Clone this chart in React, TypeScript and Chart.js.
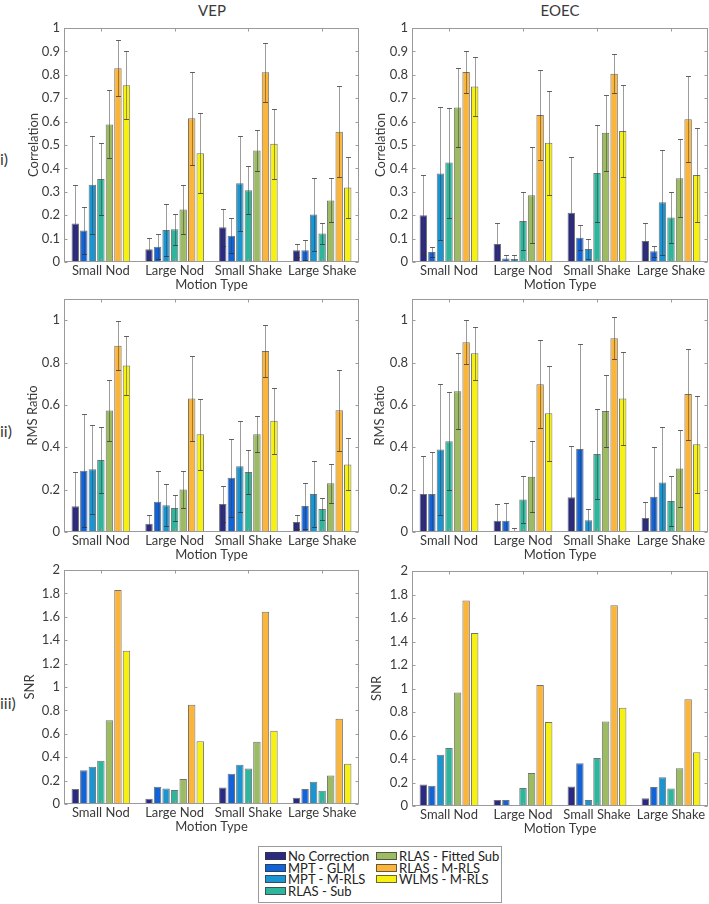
import React, { useEffect, useRef } from 'react';
import { Chart, registerables } from 'chart.js';

Chart.register(...registerables);

// ---------------- data ----------------
const categories = ['Small Nod', 'Large Nod', 'Small Shake', 'Large Shake'];
const methods = [
  'No Correction',
  'MPT - GLM',
  'MPT - M-RLS',
  'RLAS - Sub',
  'RLAS - Fitted Sub',
  'RLAS - M-RLS',
  'WLMS - M-RLS',
];
const methodColors = ['#2b2a82', '#1262d8', '#1a95d2', '#2fb59c', '#9cbb63', '#fbb53b', '#f6f112'];

// rows = methods, columns = categories
const vepCorrMean = [
  [0.165, 0.055, 0.148, 0.05],
  [0.135, 0.065, 0.112, 0.05],
  [0.33, 0.137, 0.337, 0.203],
  [0.355, 0.14, 0.307, 0.122],
  [0.588, 0.224, 0.477, 0.263],
  [0.828, 0.614, 0.811, 0.557],
  [0.755, 0.465, 0.505, 0.318],
];
const vepCorrSd = [
  [0.165, 0.048, 0.08, 0.027],
  [0.1, 0.053, 0.075, 0.043],
  [0.21, 0.11, 0.203, 0.154],
  [0.155, 0.067, 0.104, 0.045],
  [0.145, 0.104, 0.087, 0.094],
  [0.12, 0.2, 0.126, 0.195],
  [0.145, 0.17, 0.15, 0.13],
];
const eoecCorrMean = [
  [0.2, 0.077, 0.21, 0.09],
  [0.043, 0.015, 0.104, 0.046],
  [0.378, 0.013, 0.056, 0.255],
  [0.425, 0.175, 0.38, 0.19],
  [0.66, 0.285, 0.552, 0.358],
  [0.812, 0.628, 0.805, 0.61],
  [0.75, 0.51, 0.56, 0.372],
];
const eoecCorrSd = [
  [0.172, 0.088, 0.24, 0.077],
  [0.021, 0.015, 0.053, 0.024],
  [0.285, 0.017, 0.044, 0.225],
  [0.235, 0.125, 0.207, 0.11],
  [0.167, 0.205, 0.161, 0.167],
  [0.088, 0.194, 0.083, 0.183],
  [0.126, 0.222, 0.195, 0.2],
];
const vepRmsMean = [
  [0.121, 0.039, 0.132, 0.047],
  [0.289, 0.143, 0.256, 0.123],
  [0.296, 0.126, 0.31, 0.179],
  [0.34, 0.113, 0.283, 0.108],
  [0.574, 0.201, 0.462, 0.23],
  [0.879, 0.63, 0.854, 0.575],
  [0.786, 0.461, 0.525, 0.319],
];
const vepRmsSd = [
  [0.164, 0.04, 0.085, 0.035],
  [0.266, 0.143, 0.184, 0.107],
  [0.209, 0.099, 0.214, 0.154],
  [0.155, 0.06, 0.102, 0.051],
  [0.143, 0.087, 0.085, 0.092],
  [0.115, 0.2, 0.124, 0.192],
  [0.14, 0.166, 0.157, 0.123],
];
const eoecRmsMean = [
  [0.179, 0.053, 0.164, 0.066],
  [0.179, 0.053, 0.392, 0.167],
  [0.39, 0.006, 0.055, 0.234],
  [0.429, 0.153, 0.368, 0.146],
  [0.664, 0.261, 0.571, 0.3],
  [0.896, 0.698, 0.915, 0.651],
  [0.844, 0.561, 0.63, 0.414],
];
const eoecRmsSd = [
  [0.179, 0.08, 0.242, 0.077],
  [0.198, 0.084, 0.496, 0.236],
  [0.308, 0.013, 0.055, 0.263],
  [0.231, 0.111, 0.211, 0.12],
  [0.179, 0.167, 0.171, 0.181],
  [0.104, 0.209, 0.098, 0.215],
  [0.125, 0.225, 0.221, 0.228],
];
const vepSnr = [
  [0.128, 0.045, 0.142, 0.054],
  [0.289, 0.148, 0.258, 0.128],
  [0.318, 0.133, 0.335, 0.19],
  [0.369, 0.119, 0.303, 0.113],
  [0.715, 0.213, 0.533, 0.244],
  [1.83, 0.848, 1.643, 0.729],
  [1.31, 0.536, 0.627, 0.343],
];
const eoecSnr = [
  [0.182, 0.051, 0.167, 0.065],
  [0.173, 0.051, 0.363, 0.162],
  [0.437, 0.006, 0.051, 0.244],
  [0.494, 0.153, 0.408, 0.148],
  [0.967, 0.281, 0.72, 0.321],
  [1.75, 1.03, 1.708, 0.908],
  [1.472, 0.715, 0.837, 0.457],
];

const corrTicks = [0, 0.1, 0.2, 0.3, 0.4, 0.5, 0.6, 0.7, 0.8, 0.9, 1];
const rmsTicks = [0, 0.2, 0.4, 0.6, 0.8, 1];
const snrTicks = [0, 0.2, 0.4, 0.6, 0.8, 1, 1.2, 1.4, 1.6, 1.8, 2];

const columnTitles = ['VEP', 'EOEC'];
const rowLabels = ['i)', 'ii)', 'iii)'];
const xTitle = 'Motion Type';

// ---------------- layout ----------------
const FONT = 'Lato, "Open Sans", "DejaVu Sans", sans-serif';
const TEXT = '#3a3a3a';
const FS = 13;

type Spec = {
  mean: number[][];
  sd: number[][] | null;
  yTitle: string;
  yMax: number;
  ticks: number[];
  plot: [number, number, number, number];
  yTitleX: number;
};

const panels: Spec[] = [
  { mean: vepCorrMean, sd: vepCorrSd, yTitle: 'Correlation', yMax: 1, ticks: corrTicks, plot: [64, 28, 359, 262], yTitleX: 34 },
  { mean: eoecCorrMean, sd: eoecCorrSd, yTitle: 'Correlation', yMax: 1, ticks: corrTicks, plot: [412, 28, 708, 262], yTitleX: 381 },
  { mean: vepRmsMean, sd: vepRmsSd, yTitle: 'RMS Ratio', yMax: 1.1, ticks: rmsTicks, plot: [64, 299, 359, 532], yTitleX: 33 },
  { mean: eoecRmsMean, sd: eoecRmsSd, yTitle: 'RMS Ratio', yMax: 1.1, ticks: rmsTicks, plot: [412, 299, 708, 532], yTitleX: 380 },
  { mean: vepSnr, sd: null, yTitle: 'SNR', yMax: 2, ticks: snrTicks, plot: [64, 570, 359, 804], yTitleX: 30 },
  { mean: eoecSnr, sd: null, yTitle: 'SNR', yMax: 2, ticks: snrTicks, plot: [412, 571, 708, 806], yTitleX: 377 },
];

const boxPlugin = {
  id: 'matlabBox',
  afterDraw(chart: any) {
    const { ctx, chartArea } = chart;
    const { left, right, top, bottom } = chartArea;
    const L = Math.round(left) + 0.5;
    const R = Math.round(right) - 0.5;
    const T = Math.round(top) + 0.5;
    const B = Math.round(bottom) - 0.5;
    ctx.save();
    ctx.strokeStyle = '#9a9a9a';
    ctx.lineWidth = 1;
    ctx.strokeRect(L, T, R - L, B - T);
    const tl = 3;
    ctx.beginPath();
    const ys = chart.scales.y;
    ys.ticks.forEach((t: any) => {
      const y = Math.round(ys.getPixelForValue(t.value)) + 0.5;
      ctx.moveTo(L, y);
      ctx.lineTo(L + tl, y);
      ctx.moveTo(R, y);
      ctx.lineTo(R - tl, y);
    });
    const xs = chart.scales.x;
    categories.forEach((_, i) => {
      const x = Math.round(xs.getPixelForTick(i)) + 0.5;
      ctx.moveTo(x, B);
      ctx.lineTo(x, B - tl);
      ctx.moveTo(x, T);
      ctx.lineTo(x, T + tl);
    });
    ctx.stroke();
    ctx.restore();
  },
};

const errPlugin = {
  id: 'errBars',
  afterDatasetsDraw(chart: any) {
    const { ctx, chartArea } = chart;
    const ys = chart.scales.y;
    ctx.save();
    ctx.beginPath();
    ctx.rect(chartArea.left, chartArea.top, chartArea.right - chartArea.left, chartArea.bottom - chartArea.top);
    ctx.clip();
    chart.data.datasets.forEach((ds: any, i: number) => {
      if (!ds.errSd) return;
      const meta = chart.getDatasetMeta(i);
      meta.data.forEach((el: any, j: number) => {
        const m = ds.data[j];
        const s = ds.errSd[j];
        const x = Math.round(el.x) + 0.5;
        const hi = m + s;
        const lo = m - s;
        const yHi = Math.round(ys.getPixelForValue(hi)) + 0.5;
        const yLo = Math.round(ys.getPixelForValue(Math.max(0, lo))) + 0.5;
        const cap = 2.5;
        ctx.strokeStyle = 'rgba(60,60,60,0.5)';
        ctx.lineWidth = 1;
        ctx.beginPath();
        ctx.moveTo(x, yHi);
        ctx.lineTo(x, yLo);
        ctx.stroke();
        ctx.strokeStyle = 'rgba(50,50,50,0.75)';
        ctx.beginPath();
        ctx.moveTo(x - cap, yHi);
        ctx.lineTo(x + cap, yHi);
        if (lo > 0.004) {
          ctx.moveTo(x - cap, yLo);
          ctx.lineTo(x + cap, yLo);
        }
        ctx.stroke();
      });
    });
    ctx.restore();
  },
};

function Panel({ spec }: { spec: Spec }) {
  const ref = useRef<HTMLCanvasElement>(null);
  const [pl, pt, pr, pb] = spec.plot;
  const cl = Math.round(spec.yTitleX - 8);
  const padTop = 12;
  const ct = pt - padTop;
  const cr = Math.min(709, pr + 3);
  const padRight = cr - pr;
  const cb = pb + 31;
  const w = cr - cl;
  const h = cb - ct;
  const wy = pl - cl;
  const hx = cb - pb;

  useEffect(() => {
    const font = { family: FONT, size: FS };
    const chart = new Chart(ref.current as HTMLCanvasElement, {
      type: 'bar',
      data: {
        labels: categories,
        datasets: methods.map((m, i) => ({
          label: m,
          data: spec.mean[i],
          backgroundColor: methodColors[i],
          borderColor: 'rgba(55,55,55,0.7)',
          borderWidth: 1,
          borderSkipped: false,
          categoryPercentage: 0.81,
          barPercentage: 0.87,
          errSd: spec.sd ? spec.sd[i] : null,
        })) as any,
      },
      options: {
        responsive: false,
        animation: false,
        layout: { padding: { top: padTop, right: padRight, left: 0, bottom: 0 } },
        plugins: { legend: { display: false }, tooltip: { enabled: false } },
        scales: {
          x: {
            grid: { display: false, drawTicks: false },
            border: { display: false },
            ticks: { font, color: TEXT, padding: 1, autoSkip: false, maxRotation: 0, minRotation: 0 },
            title: { display: true, text: xTitle, font, color: TEXT, padding: 0 },
            afterFit: (s: any) => {
              s.height = hx;
            },
          },
          y: {
            min: 0,
            max: spec.yMax,
            grid: { display: false, drawTicks: false },
            border: { display: false },
            ticks: {
              font,
              color: TEXT,
              padding: 4,
              callback: (v: any) => String(Math.round(Number(v) * 10) / 10),
            },
            afterBuildTicks: (s: any) => {
              s.ticks = spec.ticks.map((v) => ({ value: v }));
            },
            title: { display: true, text: spec.yTitle, font, color: TEXT, padding: 0 },
            afterFit: (s: any) => {
              s.width = wy;
            },
          },
        },
      } as any,
      plugins: [errPlugin, boxPlugin],
    });
    return () => chart.destroy();
  }, []);

  return (
    <canvas
      ref={ref}
      width={w}
      height={h}
      style={{ position: 'absolute', left: cl, top: ct, width: w, height: h }}
    />
  );
}

function Legend() {
  const colX = [7, 118];
  const rowY = [10, 22, 33, 45];
  return (
    <div
      style={{
        position: 'absolute',
        left: 258,
        top: 846,
        width: 244,
        height: 57,
        border: '1px solid #9a9a9a',
        boxSizing: 'border-box',
        background: '#fff',
      }}
    >
      {methods.map((m, i) => {
        const col = i < 4 ? 0 : 1;
        const row = i < 4 ? i : i - 4;
        const cy = rowY[row] - 1;
        return (
          <div key={m}>
            <div
              style={{
                position: 'absolute',
                left: colX[col] - 1,
                top: cy - 4,
                width: 21,
                height: 8,
                background: methodColors[i],
                border: '1px solid rgba(55,55,55,0.75)',
                boxSizing: 'border-box',
              }}
            />
            <div
              style={{
                position: 'absolute',
                left: colX[col] + 22,
                top: cy - 8,
                height: 16,
                lineHeight: '16px',
                fontSize: 13,
                whiteSpace: 'nowrap',
                color: '#222',
              }}
            >
              {m}
            </div>
          </div>
        );
      })}
    </div>
  );
}

export default function App() {
  const titleCenters = [212, 560];
  const rowLabelY = [159, 431, 703];
  return (
    <div
      style={{
        position: 'fixed',
        left: 0,
        top: 0,
        width: 709,
        height: 904,
        background: '#ffffff',
        fontFamily: FONT,
        color: TEXT,
        overflow: 'hidden',
      }}
    >
      {columnTitles.map((t, i) => (
        <div
          key={t}
          style={{
            position: 'absolute',
            left: titleCenters[i] - 60,
            width: 120,
            top: 1,
            textAlign: 'center',
            fontSize: 15,
            lineHeight: '18px',
          }}
        >
          {t}
        </div>
      ))}
      {rowLabels.map((t, i) => (
        <div
          key={t}
          style={{
            position: 'absolute',
            left: 0,
            top: rowLabelY[i] - 10,
            fontSize: 16,
            lineHeight: '20px',
          }}
        >
          {t}
        </div>
      ))}
      {panels.map((p, i) => (
        <Panel key={i} spec={p} />
      ))}
      <Legend />
    </div>
  );
}
